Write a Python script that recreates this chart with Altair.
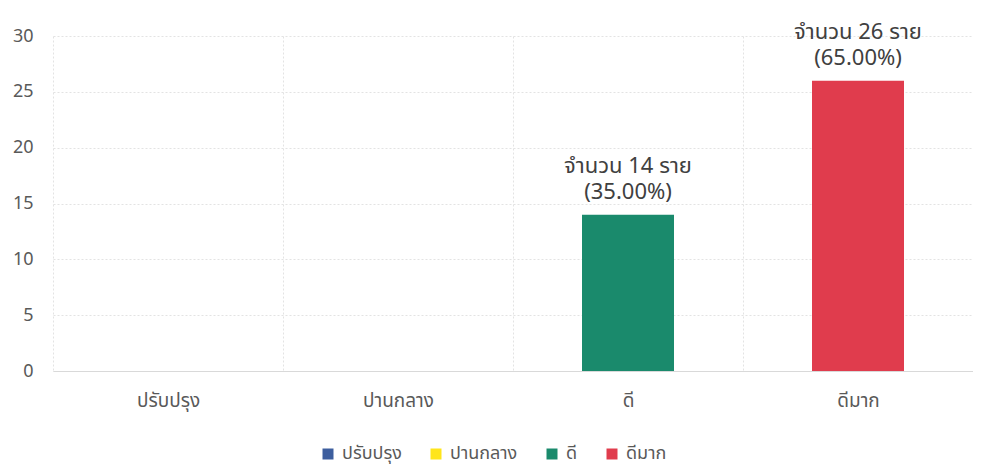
import altair as alt
import pandas as pd

categories = ["ปรับปรุง", "ปานกลาง", "ดี", "ดีมาก"]
counts = [0, 0, 14, 26]
colors = ["#3d5e9e", "#ffe51a", "#1a8a6c", "#e03c4d"]

total = sum(counts)
df = pd.DataFrame({
    "category": categories,
    "count": counts,
    "label": [f"จำนวน {c} ราย\n({c / total * 100:.2f}%)" for c in counts],
})

FONT = "Tahoma, 'Leelawadee UI', 'Noto Sans Thai', 'Noto Sans', 'DejaVu Sans', sans-serif"

x = alt.X("category:N", sort=categories, title=None,
          scale=alt.Scale(paddingInner=0, paddingOuter=0),
          axis=alt.Axis(labelAngle=0, labelFontSize=19, labelColor="#595959",
                        labelPadding=20, ticks=False, domain=True, domainColor="#d9d9d9",
                        grid=True, gridColor="#e3e3e3", gridDash=[2, 2],
                        tickBand="extent", labelFont=FONT))
y = alt.Y("count:Q", title=None,
          scale=alt.Scale(domain=[0, 30]),
          axis=alt.Axis(values=[0, 5, 10, 15, 20, 25, 30], labelFontSize=18,
                        labelColor="#595959", labelPadding=20, ticks=False, domain=False,
                        grid=True, gridColor="#e3e3e3", gridDash=[2, 2], labelFont=FONT))

bars = alt.Chart(df).mark_bar(width=alt.RelativeBandSize(0.4)).encode(
    x=x, y=y,
    color=alt.Color("category:N", sort=categories,
                    scale=alt.Scale(domain=categories, range=colors),
                    legend=alt.Legend(title=None, orient="none", direction="horizontal",
                                      legendX=266, legendY=409, padding=0,
                                      symbolType="square", symbolSize=121, symbolStrokeWidth=0,
                                      labelFontSize=18, labelColor="#595959", labelFont=FONT,
                                      labelOffset=5, columnPadding=25, symbolOffset=0)),
)

labels = alt.Chart(df).transform_filter("datum.count > 0").mark_text(
    baseline="bottom", dy=-37, fontSize=22, color="#404040", lineBreak="\n",
    lineHeight=26, font=FONT,
).encode(x=alt.X("category:N", sort=categories), y="count:Q", text="label:N")

chart = (bars + labels).properties(
    width=920, height=335,
    autosize=alt.AutoSizeParams(type="none"),
    padding={"left": 45, "top": 28, "right": 0, "bottom": 97},
    background="white",
).configure_view(stroke=None)

chart.save("out.html", embed_options={"renderer": "svg", "actions": False})
